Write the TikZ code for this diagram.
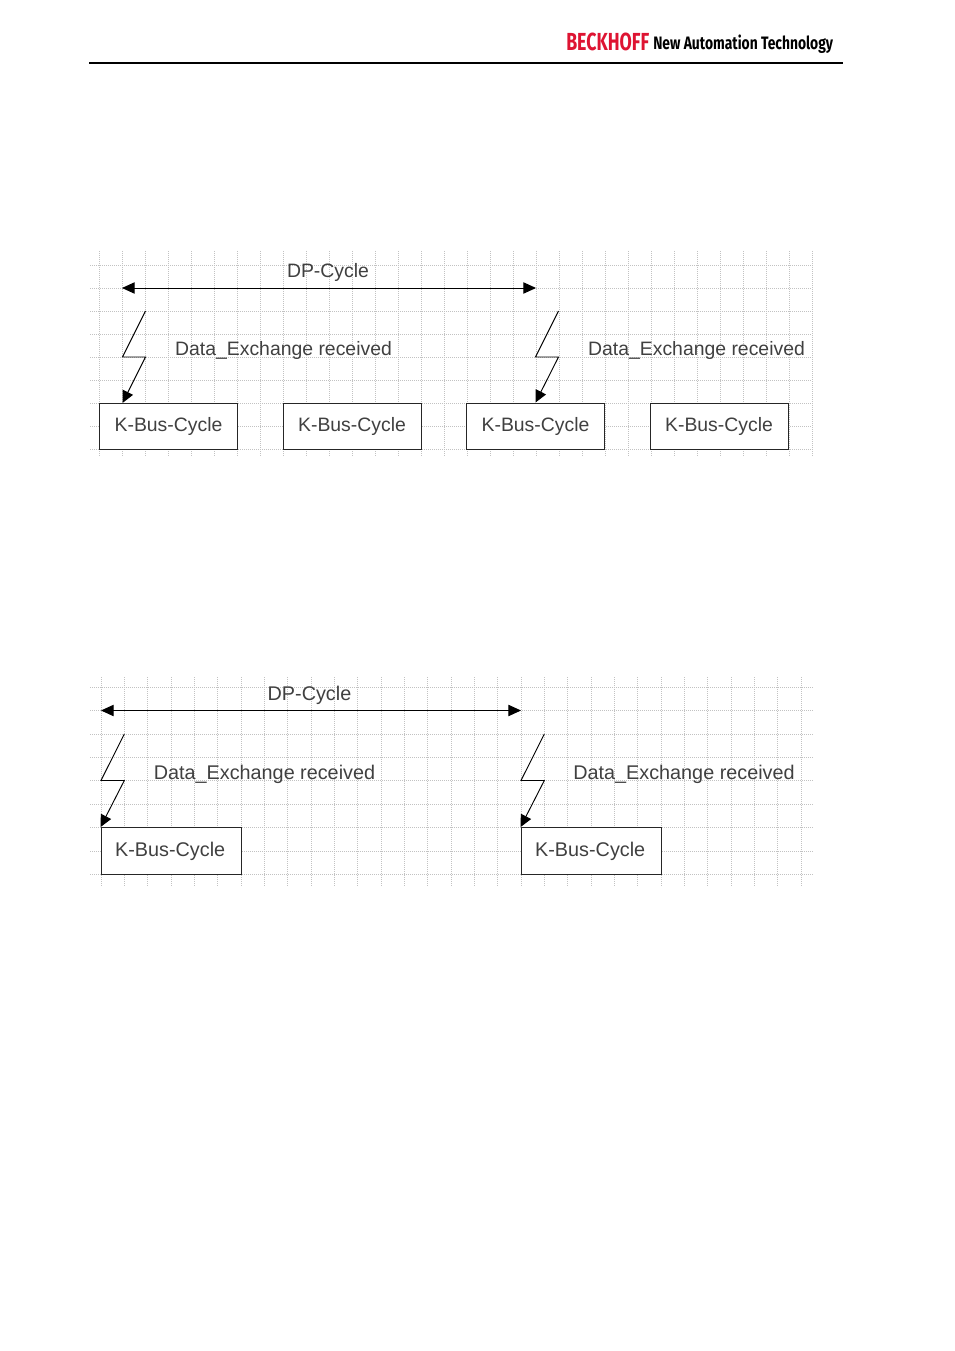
\documentclass[tikz,border=0pt]{standalone}
\usepackage{fontspec}
\usepackage{graphicx}
\setmainfont{Liberation Sans}
\newfontfamily\hdrfont{Fira Sans}
\usetikzlibrary{arrows.meta}
\definecolor{txtgray}{gray}{0.25}
\definecolor{beckred}{RGB}{222,20,50}
\tikzset{
  gridline/.style={draw=black!24,line width=0.55pt,dash pattern=on 0.75pt off 0.75pt},
  cyclebox/.style={draw=black!85,line width=0.7pt,fill=white,inner sep=0pt,text=txtgray,font=\fontsize{#1}{#1}\selectfont},
  lbl/.style={anchor=base,inner sep=0pt,text=txtgray,font=\fontsize{#1}{#1}\selectfont},
  dparrow/.style={draw=black,line width=0.7pt,{Triangle[length=9.5pt,width=8.5pt]}-{Triangle[length=9.5pt,width=8.5pt]}},
  bolt/.style={draw=black,line width=0.7pt,line join=miter,-{Triangle[length=9pt,width=8.5pt]}}
}
\begin{document}
\begin{tikzpicture}[x=0.75pt,y=-0.75pt]
\useasboundingbox[fill=white] (0,0) rectangle (954,1351);
% header
\node[anchor=base west,inner sep=0pt,text=beckred] (logo) at (566,50.5) {\scalebox{0.72}[1]{\fontsize{18.5pt}{18.5pt}\hdrfont\bfseries BECKHOFF}};
\node[anchor=base west,inner sep=0pt,text=black] (slogan) at (653,49.5) {\scalebox{0.77}[1]{\fontsize{13.5pt}{13.5pt}\hdrfont\bfseries New Automation Technology}};
\coordinate (ruleL) at (89,63);
\coordinate (ruleR) at (843,63);
\draw[line width=1.4pt] (ruleL) -- (ruleR);
% grid 1
\foreach \k in {0,...,31} \draw[gridline] ({99.5+23*\k},251) -- ({99.5+23*\k},457);
\foreach \k in {0,...,8} \draw[gridline] (90,{265+23*\k}) -- (812,{265+23*\k});
% grid 2
\foreach \k in {0,...,30} \draw[gridline] ({101+23.33*\k},677) -- ({101+23.33*\k},887);
\foreach \k in {0,...,8} \draw[gridline] (90,{687+23.45*\k}) -- (813,{687+23.45*\k});
% diagram 1
\foreach \n/\xa in {a1/168.5,a2/352,a3/535.5,a4/719}
  \node[cyclebox=14.55pt,minimum width=103.5pt,minimum height=34.5pt] (\n) at (\xa,426) {K-Bus-Cycle};
\node[lbl=14.55pt] (dp1) at (328,278) {DP-Cycle};
\node[lbl=14.55pt] (de1) at (283.5,356) {Data\_Exchange received};
\node[lbl=14.55pt] (de2) at (696.5,356) {Data\_Exchange received};
\coordinate (a1L) at (122,288);
\coordinate (a1R) at (536,288);
\draw[dparrow] (a1L) -- (a1R);
\coordinate (b1s) at (145.5,311);
\coordinate (b1m) at (122.5,357);
\coordinate (b1n) at (145.5,357);
\coordinate (b1e) at (122.5,403);
\draw[bolt] (b1s) -- (b1m) -- (b1n) -- (b1e);
\coordinate (b2s) at (558.5,311);
\coordinate (b2m) at (535.5,357);
\coordinate (b2n) at (558.5,357);
\coordinate (b2e) at (a3.north);
\draw[bolt] (b2s) -- (b2m) -- (b2n) -- (b2e);
% diagram 2
\foreach \n/\xa in {c1/171,c2/591}
  \node[cyclebox=14.85pt,minimum width=105pt,minimum height=35.2pt,text width=105pt,align=center,xshift=0pt] (\n) at (\xa,851) {\hspace*{-1.2pt}K-Bus-Cycle};
\node[lbl=14.85pt] (dp2) at (309.5,700) {DP-Cycle};
\node[lbl=14.85pt] (de3) at (264.5,779.5) {Data\_Exchange received};
\node[lbl=14.85pt] (de4) at (684,779.5) {Data\_Exchange received};
\coordinate (a2L) at (101,710.5);
\coordinate (a2R) at (521,710.5);
\draw[dparrow] (a2L) -- (a2R);
\coordinate (d1s) at (124.3,734);
\coordinate (d1m) at (101,780.5);
\coordinate (d1n) at (124.3,780.5);
\draw[bolt] (d1s) -- (d1m) -- (d1n) -- (c1.north west);
\coordinate (d2s) at (544.3,734);
\coordinate (d2m) at (521,780.5);
\coordinate (d2n) at (544.3,780.5);
\draw[bolt] (d2s) -- (d2m) -- (d2n) -- (c2.north west);
\end{tikzpicture}
\end{document}
